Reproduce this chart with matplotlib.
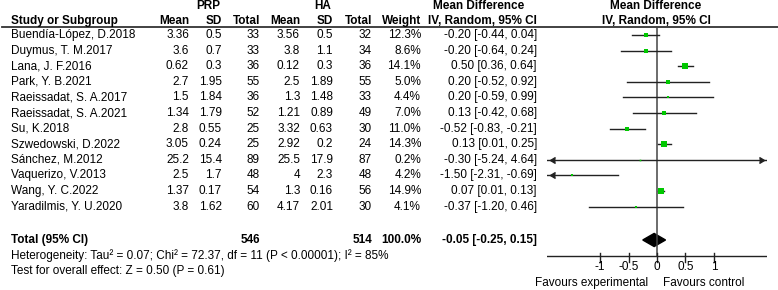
import matplotlib
matplotlib.use("Agg")
import matplotlib.pyplot as plt
from matplotlib.patches import Polygon

plt.rcParams['font.family'] = ['Liberation Sans', 'DejaVu Sans']
plt.rcParams['font.size'] = 8.5

# ---- data ----
studies = ["Buendía-López, D.2018", "Duymus, T. M.2017", "Lana, J. F.2016",
           "Park, Y. B.2021", "Raeissadat, S. A.2017", "Raeissadat, S. A.2021",
           "Su, K.2018", "Szwedowski, D.2022", "Sánchez, M.2012",
           "Vaquerizo, V.2013", "Wang, Y. C.2022", "Yaradilmis, Y. U.2020"]
prp_mean = [3.36, 3.6, 0.62, 2.7, 1.5, 1.34, 2.8, 3.05, 25.2, 2.5, 1.37, 3.8]
prp_sd = [0.5, 0.7, 0.3, 1.95, 1.84, 1.79, 0.55, 0.24, 15.4, 1.7, 0.17, 1.62]
prp_n = [33, 33, 36, 55, 36, 52, 25, 25, 89, 48, 54, 60]
ha_mean = [3.56, 3.8, 0.12, 2.5, 1.3, 1.21, 3.32, 2.92, 25.5, 4, 1.3, 4.17]
ha_sd = [0.5, 1.1, 0.3, 1.89, 1.48, 0.89, 0.63, 0.2, 17.9, 2.3, 0.16, 2.01]
ha_n = [32, 34, 36, 55, 33, 49, 30, 24, 87, 48, 56, 30]
weight = [12.3, 8.6, 14.1, 5.0, 4.4, 7.0, 11.0, 14.3, 0.2, 4.2, 14.9, 4.1]
md = [-0.20, -0.20, 0.50, 0.20, 0.20, 0.13, -0.52, 0.13, -0.30, -1.50, 0.07, -0.37]
ci_lo = [-0.44, -0.64, 0.36, -0.52, -0.59, -0.42, -0.83, 0.01, -5.24, -2.31, 0.01, -1.20]
ci_hi = [0.04, 0.24, 0.64, 0.92, 0.99, 0.68, -0.21, 0.25, 4.64, -0.69, 0.13, 0.46]

total_prp = 546
total_ha = 514
pooled = -0.05
pooled_lo = -0.25
pooled_hi = 0.15
heterogeneity = "Heterogeneity: Tau² = 0.07; Chi² = 72.37, df = 11 (P < 0.00001); I² = 85%"
overall = "Test for overall effect: Z = 0.50 (P = 0.61)"
ticks = [-1, -0.5, 0, 0.5, 1]
tick_labels = ["-1", "-0.5", "0", "0.5", "1"]

# ---- layout ----
W, H = 778, 290
row0, row_h = 35, 15.6           # pixel y of first row, row spacing
y_top = -row0 / row_h
y_bot = (H - row0) / row_h
lim = 1.93
green = "#00c800"

fig = plt.figure(figsize=(W / 100, H / 100), dpi=100)
tx = fig.add_axes([0, 0, 1, 1])
tx.set_xlim(0, W)
tx.set_ylim(y_bot, y_top)
tx.axis("off")

ax = fig.add_axes([547 / W, 0, 220 / W, 1])
ax.set_xlim(-lim, lim)
ax.set_ylim(y_bot, y_top)
ax.axis("off")

def t(x, y, s, ha="right", bold=False):
    tx.text(x, y, s, ha=ha, va="center", fontweight="bold" if bold else "normal")

# headers
t(208, -1.86, "PRP", ha="center", bold=True)
t(323, -1.86, "HA", ha="center", bold=True)
t(479, -1.86, "Mean Difference", ha="center", bold=True)
t(656, -1.86, "Mean Difference", ha="center", bold=True)
t(11, -0.9, "Study or Subgroup", ha="left", bold=True)
for x, s in [(189, "Mean"), (222, "SD"), (260, "Total"), (300, "Mean"),
             (333, "SD"), (372, "Total"), (421, "Weight"), (537, "IV, Random, 95% CI")]:
    t(x, -0.9, s, bold=True)
t(656, -0.9, "IV, Random, 95% CI", ha="center", bold=True)
tx.plot([2, W], [-0.5, -0.5], color="#333333", lw=1.3)

# study rows
for i, name in enumerate(studies):
    t(11, i, name, ha="left")
    t(189, i, f"{prp_mean[i]:g}")
    t(222, i, f"{prp_sd[i]:g}")
    t(260, i, f"{prp_n[i]}")
    t(300, i, f"{ha_mean[i]:g}")
    t(333, i, f"{ha_sd[i]:g}")
    t(372, i, f"{ha_n[i]}")
    t(421, i, f"{weight[i]:.1f}%")
    t(537, i, f"{md[i]:.2f} [{ci_lo[i]:.2f}, {ci_hi[i]:.2f}]")

# total rows
yt = 13.14
t(11, yt, "Total (95% CI)", ha="left", bold=True)
t(260, yt, f"{total_prp}", bold=True)
t(372, yt, f"{total_ha}", bold=True)
t(421, yt, "100.0%", bold=True)
t(537, yt, f"{pooled:.2f} [{pooled_lo:.2f}, {pooled_hi:.2f}]", bold=True)
t(11, yt + 1, heterogeneity, ha="left")
t(11, yt + 2, overall, ha="left")

# forest plot
y_axis = 14.17
ax.plot([0, 0], [-0.5, y_axis], color="#444444", lw=1.1)
for i in range(len(studies)):
    lo = max(ci_lo[i], -lim)
    hi = min(ci_hi[i], lim)
    ax.plot([lo, hi], [i, i], color="#222222", lw=1.0)
    if ci_lo[i] < -lim:
        ax.plot(-lim + 0.06, i, marker=4, color="#222222", ms=5)
    if ci_hi[i] > lim:
        ax.plot(lim - 0.06, i, marker=5, color="#222222", ms=5)
    side = max(1.6, 1.4 * weight[i] ** 0.5)
    ax.plot(md[i], i, marker="s", color=green, ms=side * 0.72, mew=0)

diamond = Polygon([(pooled_lo, yt), (pooled, yt - 0.42), (pooled_hi, yt), (pooled, yt + 0.42)],
                  closed=True, color="black")
ax.add_patch(diamond)

# axis
ax.plot([-lim, lim], [y_axis, y_axis], color="#222222", lw=1.0)
for v, s in zip(ticks, tick_labels):
    ax.plot([v, v], [y_axis - 0.2, y_axis + 0.35], color="#222222", lw=1.0)
    ax.text(v, 14.87, s, ha="center", va="center")
ax.text(-0.15, 15.9, "Favours experimental", ha="right", va="center")
ax.text(0.11, 15.9, "Favours control", ha="left", va="center")

fig.savefig("out.png", dpi=100)
